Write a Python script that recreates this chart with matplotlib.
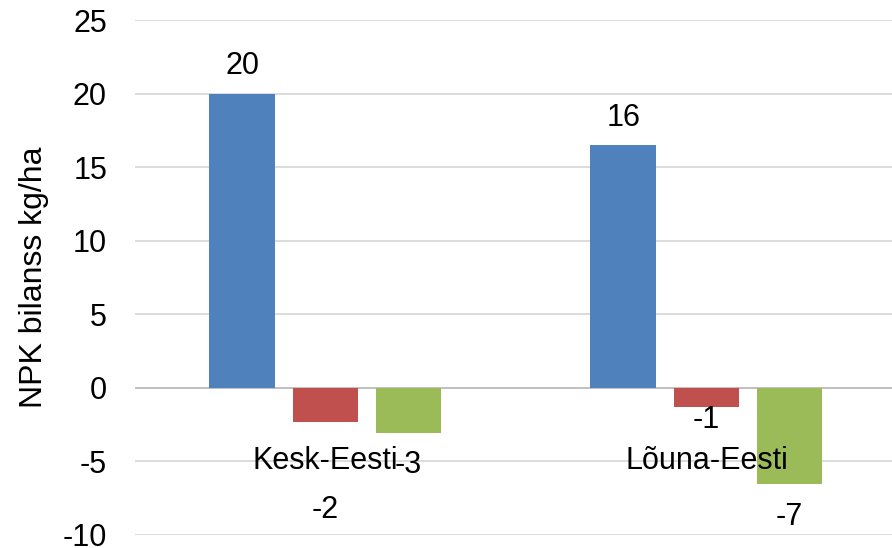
import numpy as np
import matplotlib.pyplot as plt

plt.rcParams['font.family'] = ['Liberation Sans', 'DejaVu Sans']
plt.rcParams['axes.unicode_minus'] = False

categories = ['Kesk-Eesti', 'Lõuna-Eesti']
series_1 = [20.0, 16.5]
series_2 = [-2.3, -1.3]
series_3 = [-3.1, -6.55]
colors = ['#4F81BD', '#C0504D', '#9BBB59']

# label offsets below/above bar ends, in pixels (labels were moved by hand)
label_offsets = [
    [28, 27],
    [-88, -13],
    [-32, -33],
]

fig = plt.figure(figsize=(8.92, 5.48), dpi=100)
ax = fig.add_axes([135 / 892, 13 / 548, 757 / 892, 515 / 548])

x = np.arange(len(categories))
width = 0.173
step = 0.218
all_series = [series_1, series_2, series_3]

for i, vals in enumerate(all_series):
    pos = x + (i - 1) * step
    ax.bar(pos, vals, width=width, color=colors[i], zorder=3)
    for j, v in enumerate(vals):
        ax.annotate(f"{v:.0f}", xy=(pos[j], v), xytext=(0, label_offsets[i][j]),
                    textcoords='offset pixels', ha='center', va='center',
                    fontsize=22, zorder=5)

for j, name in enumerate(categories):
    ax.annotate(name, xy=(x[j], 0), xytext=(0, -73), textcoords='offset pixels',
                ha='center', va='center', fontsize=22, zorder=5)

ax.set_xlim(-0.5, 1.487)
ax.set_ylim(-10, 25)
ax.set_yticks(np.arange(-10, 26, 5))
ax.set_xticks([])
ax.yaxis.grid(True, color='#D9D9D9', linewidth=1.3, zorder=0)
ax.axhline(0, color='#BFBFBF', linewidth=1.3, zorder=2)
for s in ax.spines.values():
    s.set_visible(False)
ax.tick_params(axis='y', length=0, pad=28 * 0.72, labelsize=22)
ax.set_ylabel('NPK bilanss kg/ha', fontsize=23)
ax.yaxis.set_label_coords(-86 / 757, 0.5)

fig.savefig('out.png', dpi=100)
